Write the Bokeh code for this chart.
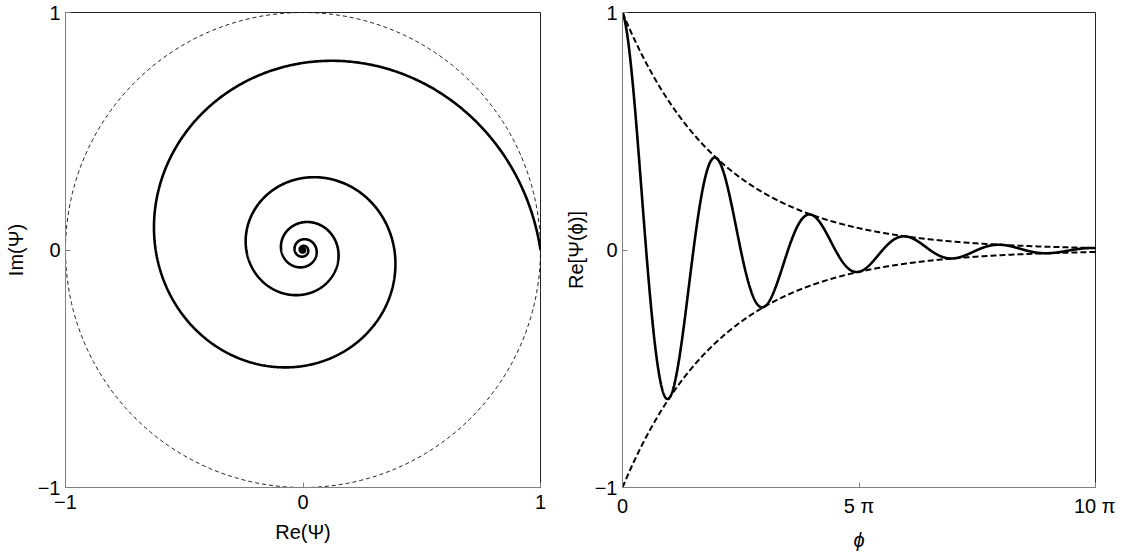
import numpy as np
from bokeh.plotting import figure
from bokeh.layouts import row
from bokeh.models import FixedTicker, Range1d
from bokeh.embed import file_html
from bokeh.resources import INLINE

# ---- data ----
# envelope e^{-a*phi}: value at phi = pi read as about 0.62 -> a ~ 0.152
decay_rate = 0.152
spiral_turns = 30            # number of turns drawn in the spiral panel
phi_max_right = 10 * np.pi   # x-extent of the right panel

left_ticks = [-1, 0, 1]
left_tick_labels = {-1: "\u22121", 0: "0", 1: "1"}
right_x_ticks = [0, 5 * np.pi, 10 * np.pi]
right_x_tick_labels = {0: "0", 5 * np.pi: "5 \u03c0", 10 * np.pi: "10 \u03c0"}
right_y_ticks = [-1, 0, 1]
right_y_tick_labels = {-1: "\u22121", 0: "0", 1: "1"}

# curves of the model
phi_s = np.linspace(0, 2 * np.pi * spiral_turns, 20000)
r_s = np.exp(-decay_rate * phi_s)
spiral_x = r_s * np.cos(phi_s)
spiral_y = r_s * np.sin(phi_s)

theta = np.linspace(0, 2 * np.pi, 721)
circle_x = np.cos(theta)
circle_y = np.sin(theta)

phi_r = np.linspace(0, phi_max_right, 3000)
env = np.exp(-decay_rate * phi_r)
re_psi = env * np.cos(phi_r)

FONT = "Liberation Sans"
FS = "20px"
AXIS_GRAY = "#808080"


def style(p, xticks, xlabels, yticks, ylabels, ylab_standoff):
    p.grid.visible = False
    p.outline_line_color = "#222222"
    p.outline_line_width = 1
    for ax in (p.xaxis[0], p.yaxis[0]):
        ax.axis_line_color = AXIS_GRAY
        ax.axis_line_width = 1
        ax.major_tick_line_color = AXIS_GRAY
        ax.major_tick_in = 5
        ax.major_tick_out = 0
        ax.minor_tick_line_color = None
        ax.major_label_text_font = FONT
        ax.major_label_text_font_size = FS
        ax.major_label_text_color = "black"
        ax.axis_label_text_font = FONT
        ax.axis_label_text_font_size = FS
        ax.axis_label_text_font_style = "normal"
        ax.axis_label_text_color = "black"
    p.xaxis[0].ticker = FixedTicker(ticks=xticks)
    p.xaxis[0].major_label_overrides = xlabels
    p.yaxis[0].ticker = FixedTicker(ticks=yticks)
    p.yaxis[0].major_label_overrides = ylabels
    p.xaxis[0].major_label_standoff = 7
    p.xaxis[0].axis_label_standoff = 9
    p.yaxis[0].major_label_standoff = 5
    p.yaxis[0].axis_label_standoff = ylab_standoff


left = figure(output_backend="svg", toolbar_location=None,
              x_range=Range1d(-1, 1), y_range=Range1d(-1, 1),
              frame_width=475, frame_height=475,
              min_border_left=65, min_border_right=21,
              min_border_top=12, min_border_bottom=60,
              x_axis_label="Re(\u03a8)", y_axis_label="Im(\u03a8)")
left.line(circle_x, circle_y, line_color="black", line_width=0.9, line_dash="4 3")
left.line(spiral_x, spiral_y, line_color="black", line_width=2.6)
style(left, left_ticks, left_tick_labels, left_ticks, left_tick_labels, 8)

right = figure(output_backend="svg", toolbar_location=None,
               x_range=Range1d(0, phi_max_right), y_range=Range1d(-1, 1),
               frame_width=473, frame_height=475,
               min_border_left=60, min_border_right=20,
               min_border_top=12, min_border_bottom=60,
               x_axis_label="\u03d5", y_axis_label="Re[\u03a8(\u03d5)]")
right.line(phi_r, env, line_color="black", line_width=2, line_dash="6 3")
right.line(phi_r, -env, line_color="black", line_width=2, line_dash="6 3")
right.line(phi_r, re_psi, line_color="black", line_width=2.6)
style(right, right_x_ticks, right_x_tick_labels, right_y_ticks, right_y_tick_labels, 5)
right.xaxis[0].axis_label_text_font_style = "italic"

layout = row(left, right)
open("out.html", "w").write(file_html(layout, INLINE))
